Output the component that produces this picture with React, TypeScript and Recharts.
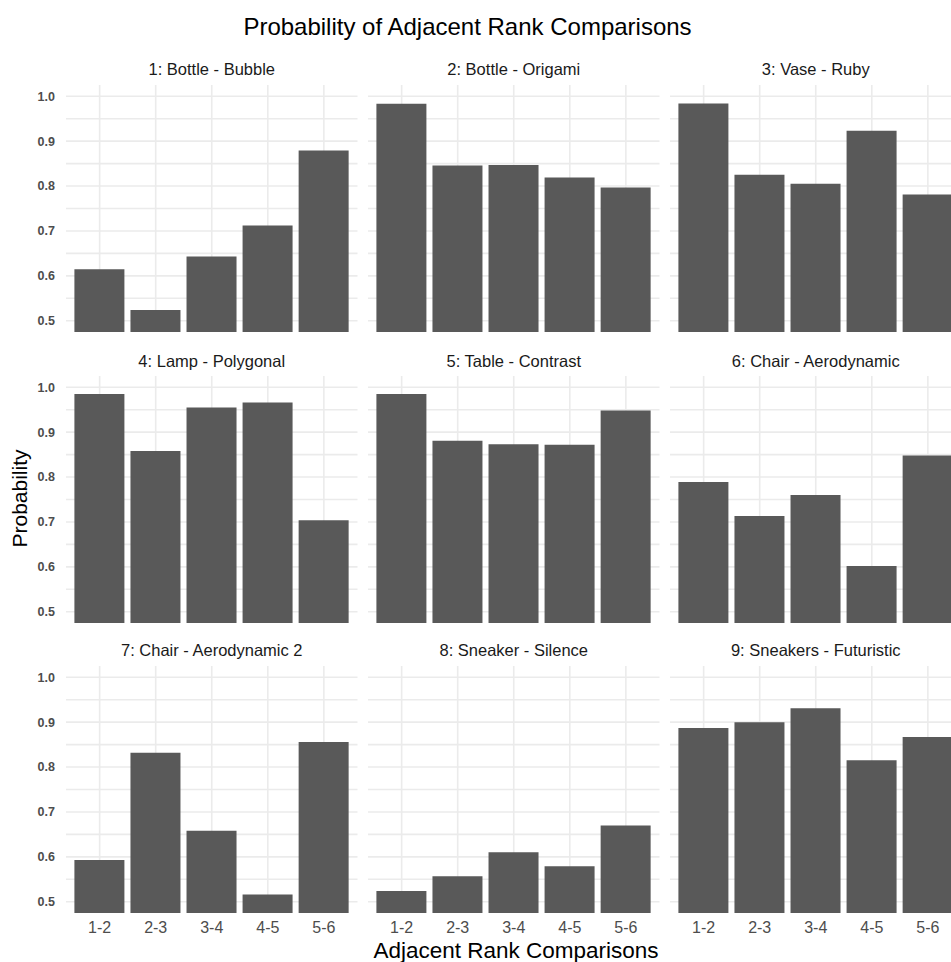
import React from 'react';
import { BarChart, Bar, XAxis, YAxis, CartesianGrid } from 'recharts';

const categories = ['1-2', '2-3', '3-4', '4-5', '5-6'];
const panelTitles = [
  '1: Bottle - Bubble',
  '2: Bottle - Origami',
  '3: Vase - Ruby',
  '4: Lamp - Polygonal',
  '5: Table - Contrast',
  '6: Chair - Aerodynamic',
  '7: Chair - Aerodynamic 2',
  '8: Sneaker - Silence',
  '9: Sneakers - Futuristic',
];
const p1 = [0.615, 0.524, 0.643, 0.712, 0.879];
const p2 = [0.983, 0.846, 0.847, 0.819, 0.797];
const p3 = [0.984, 0.825, 0.805, 0.923, 0.781];
const p4 = [0.985, 0.858, 0.955, 0.966, 0.704];
const p5 = [0.985, 0.881, 0.873, 0.872, 0.948];
const p6 = [0.789, 0.713, 0.76, 0.602, 0.848];
const p7 = [0.593, 0.832, 0.658, 0.516, 0.856];
const p8 = [0.524, 0.557, 0.61, 0.579, 0.67];
const p9 = [0.887, 0.9, 0.931, 0.815, 0.867];
const panelValues = [p1, p2, p3, p4, p5, p6, p7, p8, p9];

const yTicks = [0.5, 0.55, 0.6, 0.65, 0.7, 0.75, 0.8, 0.85, 0.9, 0.95, 1.0];
const yMajorLabels = ['0.5', '0.6', '0.7', '0.8', '0.9', '1.0'];
const yDomain = [0.475, 1.025];

const title = 'Probability of Adjacent Rank Comparisons';
const xTitle = 'Adjacent Rank Comparisons';
const yTitle = 'Probability';

const FONT = '"Liberation Sans", Arial, Helvetica, sans-serif';
const colLeft = [66, 368, 670];
const rowTop = [84.5, 376, 665.5];
const panelW = 291.5;
const panelH = 247;
const xAxisH = 40;
const yAxisW = 66;
const catUnit = panelW / 5.2;

function fmtY(v: number) {
  const s = v.toFixed(1);
  const isMajor = Math.abs(v * 10 - Math.round(v * 10)) < 1e-6;
  return isMajor && yMajorLabels.includes(s) ? s : '';
}

function Panel({ idx }: { idx: number }) {
  const r = Math.floor(idx / 3);
  const c = idx % 3;
  const data = categories.map((cat, i) => ({ cat, value: panelValues[idx][i] }));
  const isLeft = c === 0;
  const isBottom = r === 2;
  const left = isLeft ? colLeft[0] - yAxisW : colLeft[c];
  const width = panelW + (isLeft ? yAxisW : 0);
  const height = panelH + (isBottom ? xAxisH : 0);
  return (
    <div style={{ position: 'absolute', left, top: rowTop[r] }}>
      <BarChart
        width={width}
        height={height}
        data={data}
        margin={{ top: 0, right: 0, bottom: 0, left: 0 }}
        barCategoryGap="5%"
      >
        <CartesianGrid stroke="#ebebeb" strokeWidth={1.6} syncWithTicks />
        <XAxis
          dataKey="cat"
          type="category"
          hide={!isBottom}
          height={xAxisH}
          padding={{ left: catUnit * 0.1, right: catUnit * 0.1 }}
          axisLine={false}
          tickLine={false}
          tickSize={0}
          tickMargin={9}
          interval={0}
          tick={{ fill: '#4d4d4d', fontSize: 16, fontFamily: FONT }}
        />
        <YAxis
          type="number"
          domain={yDomain}
          allowDataOverflow
          ticks={yTicks}
          interval={0}
          hide={!isLeft}
          width={yAxisW}
          axisLine={false}
          tickLine={false}
          tickSize={0}
          tickMargin={11}
          tickFormatter={fmtY}
          tick={{ fill: '#4d4d4d', fontSize: 12.5, fontWeight: 'bold', fontFamily: FONT }}
        />
        <Bar dataKey="value" fill="#595959" isAnimationActive={false} />
      </BarChart>
    </div>
  );
}

export default function App() {
  return (
    <div
      style={{
        position: 'absolute',
        left: 0,
        top: 0,
        width: 951,
        height: 962,
        overflow: 'hidden',
        background: '#ffffff',
        fontFamily: FONT,
      }}
    >
      {panelTitles.map((_, i) => (
        <Panel key={i} idx={i} />
      ))}
      <svg
        width={951}
        height={962}
        style={{ position: 'absolute', left: 0, top: 0, pointerEvents: 'none' }}
      >
        <text x={467.5} y={35} textAnchor="middle" fontSize={24} fill="#000" fontFamily={FONT}>
          {title}
        </text>
        {panelTitles.map((t, i) => {
          const r = Math.floor(i / 3);
          const c = i % 3;
          return (
            <text
              key={t}
              x={colLeft[c] + panelW / 2}
              y={rowTop[r] - 9.5}
              textAnchor="middle"
              fontSize={16.5}
              fill="#1a1a1a"
              fontFamily={FONT}
            >
              {t}
            </text>
          );
        })}
        <text x={516} y={957.5} textAnchor="middle" fontSize={22.5} fill="#000" fontFamily={FONT}>
          {xTitle}
        </text>
        <text
          x={27}
          y={498.5}
          textAnchor="middle"
          fontSize={21}
          fill="#000"
          fontFamily={FONT}
          transform="rotate(-90 27 498.5)"
        >
          {yTitle}
        </text>
      </svg>
    </div>
  );
}
